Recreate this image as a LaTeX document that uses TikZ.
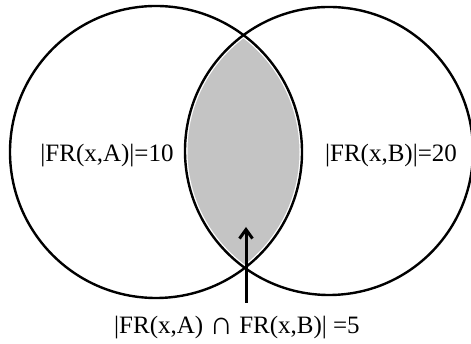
\documentclass[tikz,border=0pt]{standalone}
\usepackage{fontspec}
\setmainfont{Liberation Serif}
\usetikzlibrary{arrows.meta}
\definecolor{lensgray}{HTML}{C4C4C4}

\begin{document}
\begin{tikzpicture}[x=1pt,y=1pt,
  set/.style={circle,draw=black,line width=2.4pt,minimum size=#1,inner sep=0pt},
  setlabel/.style={font=\fontsize{25}{30}\selectfont,inner sep=0pt},
  arr/.style={-{Straight Barb[length=9pt,width=13pt]},line width=3pt}
]
\useasboundingbox (0,0) rectangle (471,344);
\coordinate (ca) at (156,192);
\coordinate (cb) at (329,193);
% shaded intersection
\begin{scope}
  \clip (ca) circle (146);
  \fill[lensgray] (cb) circle (144);
  \draw[white,line width=5pt] (cb) circle (144);
\end{scope}
\begin{scope}
  \clip (cb) circle (144);
  \draw[white,line width=5pt] (ca) circle (146);
\end{scope}
\node[set=292pt] (A) at (ca) {};
\node[set=288pt] (B) at (cb) {};
\node[setlabel] (la) at (107,188) {|FR(x,A)|=10};
\node[setlabel] (lb) at (391,188) {|FR(x,B)|=20};
\node[setlabel] (inter) at (237,16) {|FR(x,A) \raisebox{-0.5pt}{\scalebox{1.3}{∩}} FR(x,B)| =5};
\coordinate (foot) at (246,41);
\coordinate (tip) at (246,117);
\draw[arr] (foot) -- (tip);
\end{tikzpicture}
\end{document}
